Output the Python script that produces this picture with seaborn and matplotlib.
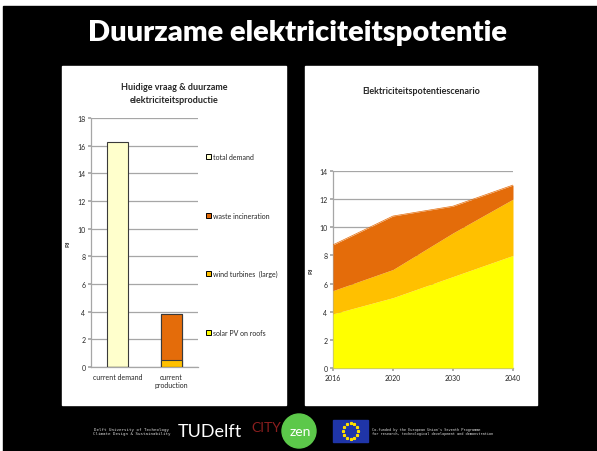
import numpy as np
import pandas as pd
import matplotlib
matplotlib.use("Agg")
import matplotlib.pyplot as plt
from matplotlib.patches import Rectangle, Ellipse, Patch
import seaborn as sns

# left chart: current demand vs production (PJ)
bar_cats = ["current demand", "current\nproduction"]
total_demand = [16.25, 0.0]
solar_pv = [0.0, 0.02]
wind_turbines = [0.0, 0.5]
waste_incineration = [0.0, 3.3]

# right chart: scenario (PJ)
years = ["2016", "2020", "2030", "2040"]
solar_scn = [3.85, 5.0, 6.5, 8.0]
wind_scn = [1.65, 2.0, 3.1, 4.0]
waste_scn = [3.25, 3.8, 1.9, 1.0]

c_demand = "#FFFFCC"
c_waste = "#E46C0A"
c_wind = "#FFC000"
c_solar = "#FFFF00"
grid_c = "#A6A6A6"

sns.set_theme(style="white")
plt.rcParams["font.family"] = ["Lato", "DejaVu Sans"]

W, H = 597, 452
fig = plt.figure(figsize=(W / 100, H / 100), dpi=100, facecolor="white")


def fx(px):
    return px / W


def fy(py):
    return 1 - py / H


def box(x0, y0, x1, y1):
    return [fx(x0), fy(y1), fx(x1) - fx(x0), fy(y0) - fy(y1)]


# slide background and panels
fig.patches.append(Rectangle((fx(3), 0), 1 - fx(3), fy(7), transform=fig.transFigure,
                             color="black", zorder=0))
for x0, x1 in [(62, 286), (305, 537)]:
    fig.patches.append(Rectangle((fx(x0), fy(406)), fx(x1) - fx(x0), fy(67) - fy(406),
                                 transform=fig.transFigure, color="white", zorder=1))

fig.text(fx(297), fy(33), "Duurzame elektriciteitspotentie", color="white", fontsize=21,
         fontweight="heavy", ha="center", va="center")

# ---- left chart
ax1 = fig.add_axes(box(91, 119, 198, 368))
ax1.set_zorder(2)
df = pd.DataFrame({"cat": bar_cats, "demand": total_demand, "solar": solar_pv,
                   "wind": wind_turbines, "waste": waste_incineration})
df["l1"] = df["solar"]
df["l2"] = df["l1"] + df["wind"]
df["l3"] = df["l2"] + df["waste"]
df["l4"] = df["l3"] + df["demand"]
for col, colr in [("l4", c_demand), ("l3", c_waste), ("l2", c_wind), ("l1", c_solar)]:
    sns.barplot(data=df, x="cat", y=col, color=colr, width=0.39, edgecolor="#3a3a3a",
                linewidth=0.8, saturation=1, ax=ax1, zorder=3)
ax1.set_xlim(-0.5, 1.5)
ax1.set_ylim(0, 18)
ax1.set_yticks(range(0, 19, 2))
ax1.yaxis.grid(True, color=grid_c, linewidth=0.9)
ax1.set_axisbelow(True)
ax1.set_xlabel("")
ax1.set_ylabel("PJ", fontsize=4.5, fontweight="bold", labelpad=5)
ax1.tick_params(axis="both", labelsize=5, length=2, color=grid_c, pad=2)
ax1.tick_params(axis="y", left=True)
for s in ["top", "right"]:
    ax1.spines[s].set_visible(False)
for s in ["left", "bottom"]:
    ax1.spines[s].set_color(grid_c)
    ax1.spines[s].set_linewidth(0.9)
ax1.set_facecolor("white")
fig.text(fx(174), fy(94), "Huidige vraag & duurzame\nelektriciteitsproductie", fontsize=6.5,
         fontweight="bold", ha="center", va="center", linespacing=1.5, zorder=5)

handles = [Patch(facecolor=c_demand, edgecolor="black", linewidth=0.7),
           Patch(facecolor=c_waste, edgecolor="black", linewidth=0.7),
           Patch(facecolor=c_wind, edgecolor="black", linewidth=0.7),
           Patch(facecolor=c_solar, edgecolor="black", linewidth=0.7)]
labels = ["total demand", "waste incineration", "wind turbines  (large)", "solar PV on roofs"]
ax1.legend(handles, labels, loc="upper left", bbox_to_anchor=(1.05, 0.87), frameon=False,
           fontsize=5, handlelength=0.7, handleheight=0.7, handletextpad=0.3,
           labelspacing=7.4, borderaxespad=0)

# ---- right chart
ax2 = fig.add_axes(box(333, 172, 513, 369))
ax2.set_zorder(2)
xs = np.arange(len(years))
sdf = pd.DataFrame({"x": xs, "solar": solar_scn, "wind": wind_scn, "waste": waste_scn})
sdf["top1"] = sdf["solar"]
sdf["top2"] = sdf["top1"] + sdf["wind"]
sdf["top3"] = sdf["top2"] + sdf["waste"]
ax2.fill_between(sdf["x"], 0, sdf["top1"], color=c_solar, linewidth=0, zorder=3)
ax2.fill_between(sdf["x"], sdf["top1"], sdf["top2"], color=c_wind, linewidth=0, zorder=3)
ax2.fill_between(sdf["x"], sdf["top2"], sdf["top3"], color=c_waste, linewidth=0, zorder=3)
sns.lineplot(data=sdf, x="x", y="top3", color=c_waste, linewidth=0.5, ax=ax2, zorder=3)
ax2.set_xlim(0, 3)
ax2.set_ylim(0, 14)
ax2.set_yticks(range(0, 15, 2))
ax2.set_xticks(xs)
ax2.set_xticklabels(years)
ax2.yaxis.grid(True, color=grid_c, linewidth=0.9)
ax2.set_axisbelow(True)
ax2.set_xlabel("")
ax2.set_ylabel("PJ", fontsize=4.5, fontweight="bold", labelpad=4)
ax2.tick_params(axis="both", labelsize=5, length=2, color=grid_c, pad=2)
ax2.tick_params(axis="y", left=True)
ax2.tick_params(axis="x", bottom=True)
for s in ["top", "right"]:
    ax2.spines[s].set_visible(False)
for s in ["left", "bottom"]:
    ax2.spines[s].set_color(grid_c)
    ax2.spines[s].set_linewidth(0.9)
fig.text(fx(421), fy(92), "Elektriciteitspotentiescenario", fontsize=6.5, fontweight="bold",
         ha="center", va="center", zorder=5)

# ---- footer
fig.text(fx(132), fy(432), "Delft University of Technology\nClimate Design & Sustainability",
         color="#dddddd", fontsize=3.0, ha="center", va="center", linespacing=1.2,
         family="DejaVu Sans Mono")
fig.text(fx(210), fy(432), "TUDelft", color="white", fontsize=13, ha="center", va="center")
fig.text(fx(266), fy(428), "CITY", color="#8b1e1e", fontsize=10, ha="center", va="center")
fig.patches.append(Ellipse((fx(299), fy(432)), 34 / W, 34 / H, transform=fig.transFigure,
                           color="#5cc84a", zorder=2))
fig.text(fx(300), fy(432), "zen", color="white", fontsize=10, ha="center", va="center",
         zorder=3)
fig.patches.append(Rectangle((fx(333), fy(443)), fx(368) - fx(333), fy(421) - fy(443),
                             transform=fig.transFigure, color="#1f35a8", zorder=2))
ang = np.linspace(0, 2 * np.pi, 12, endpoint=False)
fig.add_artist(plt.Line2D(fx(350.5) + 0.017 * np.cos(ang) * H / W,
                          fy(432) + 0.017 * np.sin(ang), transform=fig.transFigure,
                          linestyle="none", marker="*", markersize=2, color="#ffdd00",
                          zorder=3))
fig.text(fx(372), fy(432), "Co-funded by the European Union's Seventh Programme\n"
         "for research, technological development and demonstration",
         color="#dddddd", fontsize=2.6, ha="left", va="center", linespacing=1.3,
         family="DejaVu Sans Mono")

fig.savefig("out.png", dpi=100, facecolor="white")
